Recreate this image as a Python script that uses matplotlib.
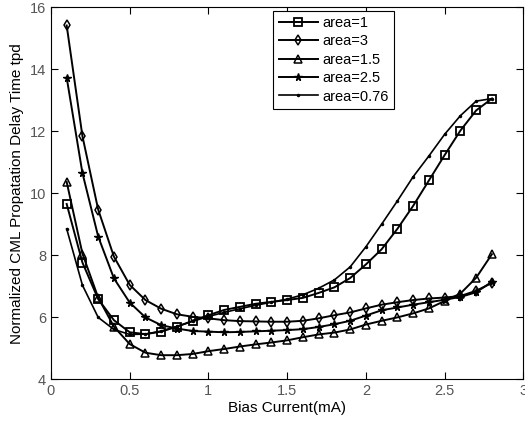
import numpy as np
import matplotlib
matplotlib.use("Agg")
import matplotlib.pyplot as plt

plt.rcParams['font.family'] = ['Liberation Sans', 'DejaVu Sans']

# bias current (mA)
bias = [0.1, 0.2, 0.3, 0.4, 0.5, 0.6, 0.7, 0.8, 0.9, 1.0,
        1.1, 1.2, 1.3, 1.4, 1.5, 1.6, 1.7, 1.8, 1.9, 2.0,
        2.1, 2.2, 2.3, 2.4, 2.5, 2.6, 2.7, 2.8]

area_1 = [9.65, 7.76, 6.58, 5.90, 5.51, 5.45, 5.53, 5.69, 5.88, 6.06,
          6.23, 6.33, 6.43, 6.49, 6.55, 6.62, 6.78, 6.96, 7.26, 7.70,
          8.19, 8.85, 9.59, 10.41, 11.23, 12.02, 12.67, 13.05]
area_3 = [15.41, 11.84, 9.47, 7.95, 7.04, 6.55, 6.27, 6.09, 6.01, 5.96,
          5.90, 5.87, 5.86, 5.85, 5.85, 5.88, 5.96, 6.06, 6.15, 6.28,
          6.40, 6.48, 6.55, 6.60, 6.63, 6.68, 6.85, 7.10]
area_1_5 = [10.36, 8.05, 6.63, 5.69, 5.13, 4.85, 4.77, 4.77, 4.81, 4.90,
            4.97, 5.05, 5.12, 5.18, 5.25, 5.35, 5.44, 5.50, 5.60, 5.76,
            5.88, 5.99, 6.12, 6.28, 6.52, 6.76, 7.27, 8.03]
area_2_5 = [13.73, 10.65, 8.60, 7.25, 6.47, 5.99, 5.74, 5.63, 5.55, 5.53,
            5.51, 5.52, 5.54, 5.56, 5.58, 5.61, 5.68, 5.77, 5.88, 6.05,
            6.22, 6.31, 6.40, 6.48, 6.56, 6.65, 6.80, 7.14]
area_0_76 = [8.85, 7.03, 5.99, 5.60, 5.44, 5.45, 5.55, 5.70, 5.86, 6.02,
             6.15, 6.27, 6.38, 6.48, 6.58, 6.72, 6.93, 7.20, 7.62, 8.27,
             9.00, 9.75, 10.53, 11.20, 11.90, 12.50, 12.97, 13.05]

labels = ['area=1', 'area=3', 'area=1.5', 'area=2.5', 'area=0.76']

fig = plt.figure(figsize=(5.25, 4.24), dpi=100)
ax = fig.add_axes([0.097, 0.106, 0.9, 0.877])

ax.plot(bias, area_1, color='k', lw=1.4, marker='s', ms=5.5, mfc='none', mew=1.3, label=labels[0])
ax.plot(bias, area_3, color='k', lw=1.4, marker='d', ms=5.5, mfc='none', mew=1.1, label=labels[1])
ax.plot(bias, area_1_5, color='k', lw=1.4, marker='^', ms=5.5, mfc='none', mew=1.1, label=labels[2])
ax.plot(bias, area_2_5, color='k', lw=1.4, marker='*', ms=5.5, label=labels[3])
ax.plot(bias, area_0_76, color='k', lw=1.2, marker='.', ms=3, label=labels[4])

ax.set_xlim(0, 3)
ax.set_ylim(4, 16)
ax.set_xticks([0, 0.5, 1, 1.5, 2, 2.5, 3])
ax.set_xticklabels(['0', '0.5', '1', '1.5', '2', '2.5', '3'])
ax.set_yticks([4, 6, 8, 10, 12, 14, 16])
ax.tick_params(direction='in', top=True, right=True, length=5,
               labelsize=10.5, labelcolor='#555555')
ax.set_xlabel('Bias Current(mA)', fontsize=11, labelpad=2)
ax.set_ylabel('Normalized CML Propatation Delay Time tpd', fontsize=11, labelpad=4)

leg = ax.legend(loc='upper left', bbox_to_anchor=(0.471, 0.99), fontsize=10.5,
                frameon=True, fancybox=False, edgecolor='k', framealpha=1,
                handlelength=2.7, labelspacing=0.3, borderpad=0.35,
                handletextpad=0.3, borderaxespad=0)
leg.get_frame().set_linewidth(0.8)

fig.savefig('out.png', dpi=100)
